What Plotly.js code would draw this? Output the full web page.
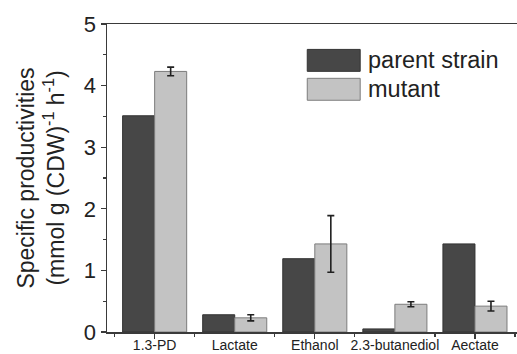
<!DOCTYPE html>
<html>
<head>
<meta charset="utf-8">
<script src="https://cdn.plot.ly/plotly-3.0.1.min.js"></script>
<style>html,body{margin:0;padding:0;overflow:hidden;background:#fff;}</style>
</head>
<body>
<div id="chart" style="width:522px;height:354px;"></div>
<script>
const categories = ["1.3-PD", "Lactate", "Ethanol", "2.3-butanediol", "Aectate"];
const seriesNames = ["parent strain", "mutant"];
const parentValues = [3.51, 0.28, 1.19, 0.05, 1.43];
const mutantValues = [4.23, 0.23, 1.43, 0.45, 0.42];
const mutantErrors = [0.07, 0.05, 0.46, 0.04, 0.08];
const yTickValues = [0, 1, 2, 3, 4, 5];

const L = 106.5, R = 519, T = 23.5, B = 332.5, W = 522, H = 354;
const pw = R - L, ph = B - T;
const px = v => (v - L) / pw;
const py = v => 1 - (v - T) / ph;

const axisColor = '#3a3a3a';
const xRange = [-0.595, 4.55];

const traces = [
  {
    type: 'bar', name: seriesNames[0], x: categories, y: parentValues,
    marker: {color: '#474747', line: {color: '#333', width: 1}},
    showlegend: false, hoverinfo: 'skip'
  },
  {
    type: 'bar', name: seriesNames[1], x: categories, y: mutantValues,
    marker: {color: '#c3c3c3', line: {color: '#7c7c7c', width: 1}},
    error_y: {type: 'data', array: mutantErrors, visible: true, color: '#202020', thickness: 1.6, width: 3.5},
    showlegend: false, hoverinfo: 'skip'
  },
  {
    // invisible helper so the overlaid major-tick axis is drawn
    type: 'scatter', mode: 'markers', x: [0], y: [0], marker: {opacity: 0, size: 1},
    xaxis: 'x2', yaxis: 'y', showlegend: false, hoverinfo: 'skip'
  }
];

const layout = {
  width: W, height: H,
  margin: {l: L, r: W - R, t: T, b: H - B, pad: 0},
  paper_bgcolor: '#fff', plot_bgcolor: '#fff',
  font: {family: 'Liberation Sans, Arial, sans-serif', color: '#222'},
  barmode: 'group', bargap: 0.2, bargroupgap: 0,
  xaxis: {
    type: 'category', range: xRange,
    showline: true, linecolor: axisColor, linewidth: 1.5, mirror: true,
    ticks: 'outside', tickson: 'boundaries', ticklen: 3, tickwidth: 1.2, tickcolor: axisColor,
    showgrid: false, zeroline: false, tickangle: 0,
    tickfont: {size: 14, color: '#222'}, ticklabelstandoff: 0
  },
  xaxis2: {
    overlaying: 'x', anchor: 'y', side: 'bottom', range: xRange, type: 'linear',
    showline: false, showgrid: false, zeroline: false, showticklabels: false,
    tickmode: 'array', tickvals: [0, 2, 4], ticks: 'outside', ticklen: 6, tickwidth: 1.2, tickcolor: axisColor
  },
  yaxis: {
    range: [0, 5], showline: true, linecolor: axisColor, linewidth: 1.5,
    showgrid: false, zeroline: false,
    tickmode: 'array', tickvals: yTickValues, ticktext: yTickValues.map(String),
    ticks: 'outside', ticklen: 5, tickwidth: 1.2, tickcolor: axisColor,
    minor: {dtick: 0.5, ticks: 'outside', ticklen: 3, tickwidth: 1.2, tickcolor: axisColor},
    tickfont: {size: 22, color: '#222'},
    title: {text: 'Specific productivities<br>(mmol g (CDW)<sup>-1</sup> h<sup>-1</sup>)', font: {size: 23, color: '#222'}, standoff: 13}
  },
  shapes: [
    {type: 'rect', xref: 'paper', yref: 'paper', x0: px(307), x1: px(360), y0: py(71), y1: py(49),
     fillcolor: '#474747', line: {color: '#333', width: 1}},
    {type: 'rect', xref: 'paper', yref: 'paper', x0: px(307), x1: px(360), y0: py(100), y1: py(78),
     fillcolor: '#c3c3c3', line: {color: '#7c7c7c', width: 1}}
  ],
  annotations: [
    {xref: 'paper', yref: 'paper', x: px(366), y: py(60), xanchor: 'left', yanchor: 'middle',
     text: seriesNames[0], showarrow: false, font: {size: 23.5, color: '#222'}},
    {xref: 'paper', yref: 'paper', x: px(366), y: py(89), xanchor: 'left', yanchor: 'middle',
     text: seriesNames[1], showarrow: false, font: {size: 23.5, color: '#222'}}
  ]
};

Plotly.newPlot('chart', traces, layout, {displayModeBar: false, staticPlot: true});
</script>
</body>
</html>
